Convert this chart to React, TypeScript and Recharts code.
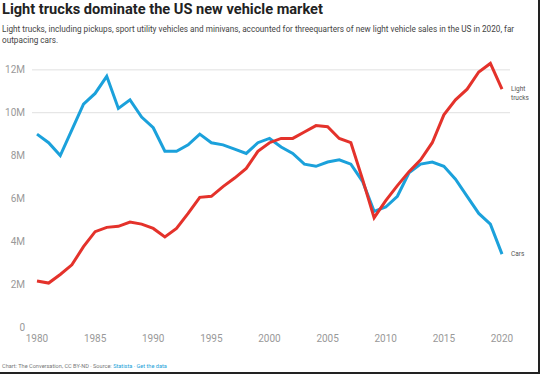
import { CartesianGrid, Line, LineChart, XAxis, YAxis } from "recharts";

// new vehicle sales in the US, millions
const years = [
  1980, 1981, 1982, 1983, 1984, 1985, 1986, 1987, 1988, 1989, 1990, 1991, 1992, 1993, 1994, 1995, 1996, 1997, 1998, 1999,
  2000, 2001, 2002, 2003, 2004, 2005, 2006, 2007, 2008, 2009, 2010, 2011, 2012, 2013, 2014, 2015, 2016, 2017, 2018, 2019,
  2020,
];
const cars = [
  9.0, 8.6, 8.0, 9.2, 10.4, 10.9, 11.7, 10.2, 10.6, 9.8, 9.3, 8.2, 8.2, 8.5, 9.0, 8.6, 8.5, 8.3, 8.1, 8.6, 8.8, 8.4, 8.1,
  7.6, 7.5, 7.7, 7.8, 7.6, 6.8, 5.4, 5.6, 6.1, 7.2, 7.6, 7.7, 7.5, 6.9, 6.1, 5.3, 4.8, 3.4,
];
const trucks = [
  2.15, 2.05, 2.45, 2.9, 3.75, 4.45, 4.65, 4.7, 4.9, 4.8, 4.6, 4.2, 4.6, 5.3, 6.05, 6.1, 6.55, 6.95, 7.4, 8.2, 8.6, 8.8,
  8.8, 9.1, 9.4, 9.35, 8.8, 8.6, 6.9, 5.1, 5.9, 6.6, 7.25, 7.8, 8.6, 9.9, 10.6, 11.1, 11.9, 12.3, 11.1,
];
const yTicks = [0, 2, 4, 6, 8, 10, 12];
const xTicks = [1980, 1985, 1990, 1995, 2000, 2005, 2010, 2015, 2020];
const gridValues = [10, 12];

const data = years.map((year, i) => ({ year, cars: cars[i], trucks: trucks[i] }));
const last = years.length - 1;

const FONT = "Roboto, 'Noto Sans', sans-serif";

function endLabel(lines: string[]) {
  return (props: any) => {
    const { x, y, index } = props;
    if (index !== last) return null;
    return (
      <text x={x + 9} y={y} fontSize={6.5} fill="#555" fontFamily={FONT}>
        {lines.map((t, i) => (
          <tspan key={t} x={x + 9} dy={i === 0 ? "0.35em" : 9}>
            {t}
          </tspan>
        ))}
      </text>
    );
  };
}

export default function App() {
  return (
    <div style={{ position: "relative", width: 540, height: 374, background: "#fff", fontFamily: FONT, overflow: "hidden" }}>
      <style>{"body{margin:0}"}</style>
      <div style={{ position: "absolute", left: 2, top: 0, fontSize: 14.6, fontWeight: 700, color: "#222", whiteSpace: "nowrap" }}>
        Light trucks dominate the US new vehicle market
      </div>
      <div style={{ position: "absolute", left: 2, top: 24, width: 516, fontSize: 8.2, lineHeight: "11px", color: "#444" }}>
        Light trucks, including pickups, sport utility vehicles and minivans, accounted for threequarters of new light vehicle
        sales in the US in 2020, far outpacing cars.
      </div>
      <div style={{ position: "absolute", left: 2, top: 363, fontSize: 5.6, color: "#777", whiteSpace: "nowrap" }}>
        Chart: The Conversation, CC BY-ND · Source: <span style={{ color: "#1a9fd9" }}>Statista · Get the data</span>
      </div>
      <div style={{ position: "absolute", right: 0, top: 0, width: 2, height: 374, background: "#222" }} />
      <div style={{ position: "absolute", left: 0, bottom: 0, width: 540, height: 2, background: "#222" }} />
      <div style={{ position: "absolute", left: 0, top: 0 }}>
        <LineChart width={540} height={374} data={data} margin={{ top: 57, right: 30, bottom: 17, left: 0 }}>
          <CartesianGrid vertical={false} horizontalValues={gridValues} stroke="#e0e0e0" />
          <XAxis
            dataKey="year"
            type="number"
            domain={[1980, 2020]}
            ticks={xTicks}
            padding={{ left: 5, right: 8 }}
            axisLine={false}
            tickLine={false}
            tickSize={0}
            tickMargin={8}
            height={30}
            tick={{ fill: "#999", fontSize: 10, fontFamily: FONT }}
          />
          <YAxis
            domain={[0, 12.6]}
            ticks={yTicks}
            axisLine={false}
            tickLine={false}
            tickSize={0}
            tickMargin={7}
            width={32}
            tickFormatter={(v: number) => (v === 0 ? "0" : `${v}M`)}
            tick={{ fill: "#999", fontSize: 10, fontFamily: FONT }}
          />
          <Line
            dataKey="cars"
            stroke="#1ba1db"
            strokeWidth={3}
            dot={false}
            isAnimationActive={false}
            label={endLabel(["Cars"])}
          />
          <Line
            dataKey="trucks"
            stroke="#e4322b"
            strokeWidth={3}
            dot={false}
            isAnimationActive={false}
            label={endLabel(["Light", "trucks"])}
          />
        </LineChart>
      </div>
    </div>
  );
}
